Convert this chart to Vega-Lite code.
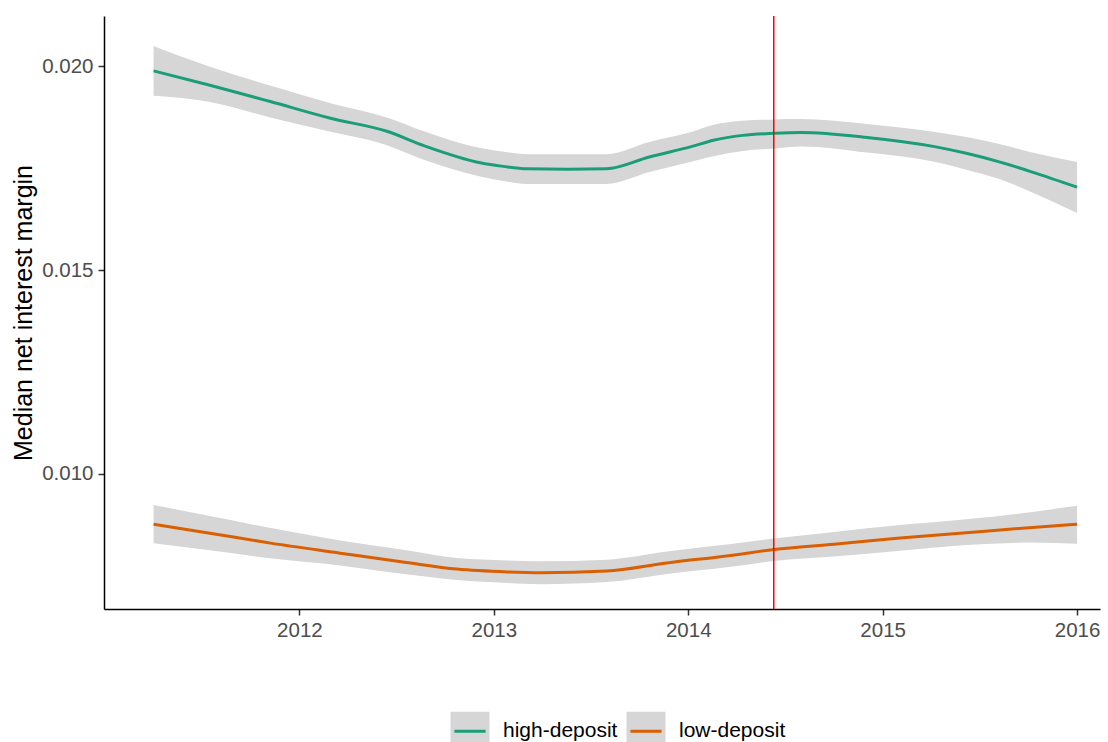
{
  "$schema": "https://vega.github.io/schema/vega-lite/v6.json",
  "autosize": "none",
  "width": 996,
  "height": 593,
  "padding": {"left": 104, "top": 16, "right": 8, "bottom": 133},
  "background": "white",
  "config": {
    "view": {"stroke": null},
    "font": "Liberation Sans",
    "axis": {
      "grid": false,
      "domainColor": "#000000",
      "domainWidth": 1.5,
      "tickColor": "#333333",
      "tickWidth": 1.5,
      "tickSize": 6,
      "labelColor": "#4D4D4D",
      "labelFont": "Liberation Sans",
      "labelFontSize": 20.5,
      "labelPadding": 5,
      "titleFont": "Liberation Sans",
      "titleFontSize": 25,
      "titleFontWeight": "normal",
      "titleColor": "#000000"
    },
    "legend": {
      "labelFont": "Liberation Sans",
      "labelFontSize": 21,
      "labelColor": "#000000"
    }
  },
  "datasets": {
    "smooth": [
      {"year": 2011.25, "group": "high-deposit", "nim": 0.01988, "lo": 0.01927, "hi": 0.02049},
      {"year": 2011.54, "group": "high-deposit", "nim": 0.01953, "lo": 0.01912, "hi": 0.01998},
      {"year": 2011.85, "group": "high-deposit", "nim": 0.01913, "lo": 0.01874, "hi": 0.01952},
      {"year": 2012.16, "group": "high-deposit", "nim": 0.01872, "lo": 0.01839, "hi": 0.01909},
      {"year": 2012.45, "group": "high-deposit", "nim": 0.01840, "lo": 0.01806, "hi": 0.01874},
      {"year": 2012.64, "group": "high-deposit", "nim": 0.01805, "lo": 0.01770, "hi": 0.01840},
      {"year": 2012.93, "group": "high-deposit", "nim": 0.01763, "lo": 0.01729, "hi": 0.01799},
      {"year": 2013.05, "group": "high-deposit", "nim": 0.01754, "lo": 0.01718, "hi": 0.01790},
      {"year": 2013.17, "group": "high-deposit", "nim": 0.01748, "lo": 0.01711, "hi": 0.01784},
      {"year": 2013.38, "group": "high-deposit", "nim": 0.01747, "lo": 0.01711, "hi": 0.01784},
      {"year": 2013.58, "group": "high-deposit", "nim": 0.01748, "lo": 0.01711, "hi": 0.01784},
      {"year": 2013.80, "group": "high-deposit", "nim": 0.01777, "lo": 0.01740, "hi": 0.01814},
      {"year": 2014.02, "group": "high-deposit", "nim": 0.01803, "lo": 0.01766, "hi": 0.01839},
      {"year": 2014.13, "group": "high-deposit", "nim": 0.01818, "lo": 0.01779, "hi": 0.01856},
      {"year": 2014.28, "group": "high-deposit", "nim": 0.01830, "lo": 0.01792, "hi": 0.01866},
      {"year": 2014.44, "group": "high-deposit", "nim": 0.01835, "lo": 0.01798, "hi": 0.01869},
      {"year": 2014.58, "group": "high-deposit", "nim": 0.01837, "lo": 0.01803, "hi": 0.01870},
      {"year": 2014.92, "group": "high-deposit", "nim": 0.01825, "lo": 0.01788, "hi": 0.01858},
      {"year": 2015.26, "group": "high-deposit", "nim": 0.01803, "lo": 0.01766, "hi": 0.01839},
      {"year": 2015.43, "group": "high-deposit", "nim": 0.01786, "lo": 0.01746, "hi": 0.01826},
      {"year": 2015.60, "group": "high-deposit", "nim": 0.01765, "lo": 0.01723, "hi": 0.01809},
      {"year": 2015.77, "group": "high-deposit", "nim": 0.01740, "lo": 0.01690, "hi": 0.01788},
      {"year": 2016.00, "group": "high-deposit", "nim": 0.01703, "lo": 0.01640, "hi": 0.01765},
      {"year": 2011.25, "group": "low-deposit", "nim": 0.00877, "lo": 0.00830, "hi": 0.00924},
      {"year": 2011.54, "group": "low-deposit", "nim": 0.00855, "lo": 0.00813, "hi": 0.00897},
      {"year": 2011.86, "group": "low-deposit", "nim": 0.00830, "lo": 0.00793, "hi": 0.00867},
      {"year": 2012.21, "group": "low-deposit", "nim": 0.00806, "lo": 0.00776, "hi": 0.00837},
      {"year": 2012.55, "group": "low-deposit", "nim": 0.00783, "lo": 0.00754, "hi": 0.00813},
      {"year": 2012.81, "group": "low-deposit", "nim": 0.00767, "lo": 0.00740, "hi": 0.00794},
      {"year": 2013.07, "group": "low-deposit", "nim": 0.00760, "lo": 0.00733, "hi": 0.00788},
      {"year": 2013.24, "group": "low-deposit", "nim": 0.00758, "lo": 0.00730, "hi": 0.00786},
      {"year": 2013.58, "group": "low-deposit", "nim": 0.00762, "lo": 0.00735, "hi": 0.00790},
      {"year": 2013.89, "group": "low-deposit", "nim": 0.00782, "lo": 0.00755, "hi": 0.00810},
      {"year": 2014.23, "group": "low-deposit", "nim": 0.00801, "lo": 0.00773, "hi": 0.00829},
      {"year": 2014.44, "group": "low-deposit", "nim": 0.00815, "lo": 0.00787, "hi": 0.00842},
      {"year": 2014.75, "group": "low-deposit", "nim": 0.00828, "lo": 0.00798, "hi": 0.00858},
      {"year": 2015.09, "group": "low-deposit", "nim": 0.00843, "lo": 0.00812, "hi": 0.00875},
      {"year": 2015.43, "group": "low-deposit", "nim": 0.00856, "lo": 0.00826, "hi": 0.00889},
      {"year": 2015.77, "group": "low-deposit", "nim": 0.00869, "lo": 0.00832, "hi": 0.00907},
      {"year": 2016.00, "group": "low-deposit", "nim": 0.00877, "lo": 0.00829, "hi": 0.00922}
    ],
    "event": [{"year": 2014.44}]
  },
  "layer": [
    {
      "data": {"name": "smooth"},
      "mark": {"type": "area", "color": "#D6D6D6", "opacity": 1, "interpolate": "monotone"},
      "encoding": {
        "x": {
          "field": "year", "type": "quantitative",
          "scale": {"domain": [2010.995, 2016.118], "nice": false, "zero": false},
          "axis": {"title": null, "values": [2012, 2013, 2014, 2015, 2016], "format": "d", "labelPadding": 5}
        },
        "y": {
          "field": "lo", "type": "quantitative",
          "scale": {"domain": [0.006691, 0.021226], "nice": false, "zero": false},
          "axis": {"title": "Median net interest margin", "values": [0.010, 0.015, 0.020], "format": ".3f", "labelPadding": 5, "titlePadding": 5}
        },
        "y2": {"field": "hi"},
        "detail": {"field": "group"}
      }
    },
    {
      "data": {"name": "smooth"},
      "mark": {"type": "line", "strokeWidth": 3, "interpolate": "monotone"},
      "encoding": {
        "x": {"field": "year", "type": "quantitative"},
        "y": {"field": "nim", "type": "quantitative"},
        "color": {
          "field": "group", "type": "nominal",
          "scale": {"range": ["#1B9E77", "#D95F02"]},
          "legend": {
            "orient": "none", "legendX": 345, "legendY": 694, "direction": "horizontal", "columns": 2,
            "title": null,
            "symbolType": "M-0.8,0L1,0L1,-1L-1,-1L-1,1L1,1L1,0Z",
            "symbolSize": 1521, "symbolStrokeWidth": 3,
            "symbolFillColor": "#D6D6D6", "symbolDash": [31.2, 400], "symbolOpacity": 1,
            "labelOffset": 12, "columnPadding": 2,
            "encode": {"symbols": {"update": {"fill": {"value": "#D6D6D6"}, "strokeDash": {"value": [31.2, 400]}}}}
          }
        }
      }
    },
    {
      "data": {"name": "event"},
      "mark": {"type": "rule", "color": "#FF0000", "strokeWidth": 1.5},
      "encoding": {"x": {"field": "year", "type": "quantitative"}}
    }
  ]
}
